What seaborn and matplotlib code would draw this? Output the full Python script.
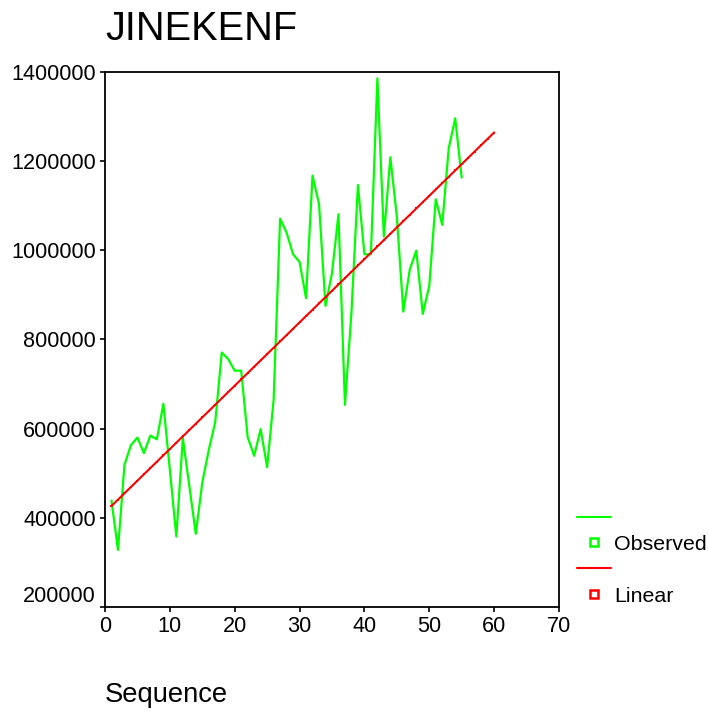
import numpy as np
import pandas as pd
import seaborn as sns
import matplotlib.pyplot as plt
from matplotlib.lines import Line2D

# observerte verdier, lest av bildet
sequence = list(range(1, 56))
observed = [438800, 328000, 518800, 563000, 580000, 545000, 584500, 576000, 655600, 507600,
            358000, 578700, 471700, 364000, 479000, 552000, 615000, 770600, 755800, 730000,
            730000, 581000, 539000, 598900, 513700, 664600, 1071000, 1039700, 991000, 974000,
            892600, 1167500, 1104000, 875300, 948600, 1081000, 653300, 860000, 1146600, 991000,
            991000, 1385800, 1030700, 1208700, 1075500, 862500, 957500, 999300, 857400, 920000,
            1114500, 1057000, 1229000, 1296000, 1163000]
fit_sequence = list(range(1, 61))
x_ticks = [0, 10, 20, 30, 40, 50, 60, 70]
y_ticks = [200000, 400000, 600000, 800000, 1000000, 1200000, 1400000]

df_obs = pd.DataFrame({"Sequence": sequence, "JINEKENF": observed})
slope, intercept = np.polyfit(sequence, observed, 1)
df_fit = pd.DataFrame({"Sequence": fit_sequence})
df_fit["Linear"] = intercept + slope * df_fit["Sequence"]

sns.set_theme(style="white")
plt.rcParams["font.family"] = ["Liberation Sans", "DejaVu Sans"]
plt.rcParams["text.color"] = "black"
plt.rcParams["axes.labelcolor"] = "black"

fig = plt.figure(figsize=(7.09, 7.14), dpi=100)
ax = fig.add_axes([0.1481, 0.1499, 0.6403, 0.7493])

green = "#00ff00"
red = "#ff0000"
sns.lineplot(data=df_obs, x="Sequence", y="JINEKENF", color=green, linewidth=1.6, ax=ax)
sns.lineplot(data=df_fit, x="Sequence", y="Linear", color=red, linewidth=1.5,
             marker="s", markersize=1.6, markeredgewidth=0, ax=ax)

ax.set_xlim(0, 70)
ax.set_ylim(200000, 1400000)
ax.set_xticks(x_ticks)
ax.set_yticks(y_ticks)
ax.ticklabel_format(style="plain", axis="y")
ax.tick_params(axis="both", labelsize=15.6, length=3.6, width=1.2, direction="out",
               bottom=True, left=True, pad=3, colors="black")
ax.get_yticklabels()[0].set_va("bottom")
for s in ax.spines.values():
    s.set_color("black")
    s.set_linewidth(1.3)

ax.set_title("JINEKENF", loc="left", fontsize=28.6, pad=23, color="black")
ax.set_xlabel("Sequence", fontsize=19.7)
ax.xaxis.set_label_coords(0, -0.1645)
ax.xaxis.label.set_ha("left")
ax.xaxis.label.set_va("center")
ax.set_ylabel("")

handles = [
    Line2D([], [], color=green, linewidth=1.5),
    Line2D([], [], color=green, marker="s", markersize=6, markerfacecolor="none",
           markeredgewidth=1.8, linestyle="none"),
    Line2D([], [], color=red, linewidth=1.5),
    Line2D([], [], color=red, marker="s", markersize=6, markerfacecolor="none",
           markeredgewidth=1.8, linestyle="none"),
]
labels = [" ", "Observed", " ", "Linear"]
fig.legend(handles, labels, loc="upper left", bbox_to_anchor=(577 / 709, 1 - 509 / 714),
           frameon=False, fontsize=15.4, handlelength=1.6, handletextpad=0.12,
           labelspacing=0.32, borderpad=0, borderaxespad=0)

plt.savefig("out.png", dpi=100)
